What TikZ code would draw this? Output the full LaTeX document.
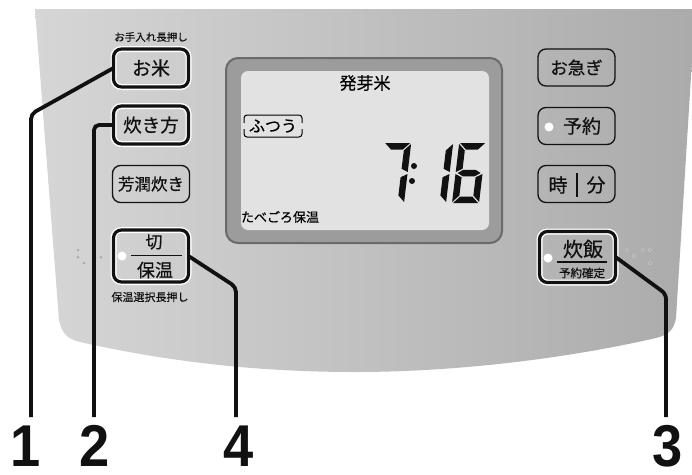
\documentclass[tikz,border=0pt]{standalone}
\usepackage{fontspec}
\newfontfamily\jp{Noto Sans CJK JP}[FakeBold=0.5]
\newfontfamily\numf{Liberation Sans}
\definecolor{panelL}{HTML}{D6D6D6}
\definecolor{panelR}{HTML}{ABABAB}
\definecolor{bezel}{HTML}{9C9C9C}
\definecolor{bezelline}{HTML}{6A6A6A}
\definecolor{lcd}{HTML}{E2E2E2}
\definecolor{ink}{HTML}{111111}
\definecolor{dotgray}{HTML}{959595}
\pgfdeclarelayer{lh}
\pgfdeclarelayer{lt}
\pgfsetlayers{lh,main,lt}
\newcommand\conn[1]{%
  \begin{pgfonlayer}{lh}\draw[leadhalo] #1;\end{pgfonlayer}%
  \begin{pgfonlayer}{lt}\draw[lead] #1;\end{pgfonlayer}}
\newcommand\segA{(1,60) -- (26,60) -- (19.5,53.5) -- (7.5,53.5) -- cycle}
\newcommand\segB{(27,59) -- (20.5,52.5) -- (20.5,34.25) -- (27,31) -- cycle}
\newcommand\segC{(27,1) -- (20.5,7.5) -- (20.5,25.75) -- (27,29) -- cycle}
\newcommand\segD{(1,0) -- (26,0) -- (19.5,6.5) -- (7.5,6.5) -- cycle}
\newcommand\segE{(0,1) -- (6.5,7.5) -- (6.5,25.75) -- (0,29) -- cycle}
\newcommand\segF{(0,59) -- (6.5,52.5) -- (6.5,34.25) -- (0,31) -- cycle}
\newcommand\segG{(2,30) -- (7.5,33.25) -- (19.5,33.25) -- (25,30) -- (19.5,26.75) -- (7.5,26.75) -- cycle}
\begin{document}
\begin{tikzpicture}[x=1pt,y=-1pt,
  every node/.style={inner sep=0pt, outer sep=0pt},
  btnthick/.style={draw=ink, line width=3.2pt, rounded corners=8pt, minimum width=75pt,
     preaction={draw=white, line width=6pt}},
  btnthin/.style={draw=ink, line width=1.3pt, rounded corners=8pt, minimum width=77pt, minimum height=37pt},
  lead/.style={draw=ink, line width=3.8pt, rounded corners=5pt},
  leadhalo/.style={draw=white, line width=7pt, rounded corners=5pt},
  led/.style={fill=white},
  smalldot/.style={fill=dotgray, draw=white!85!black, line width=0.5pt},
  btntext/.style={font=\jp\fontsize{18.5}{19}\selectfont, text=ink},
  note/.style={font=\jp\fontsize{10.5}{11}\selectfont, text=ink},
  bignum/.style={font=\numf\bfseries\fontsize{59}{59}\selectfont, text=ink, anchor=base,
     xscale=0.92, text depth=0pt, text height=42pt},
  seg/.style={fill=ink}]
\useasboundingbox (0,0) rectangle (692,474);
\fill[white] (0,0) rectangle (692,474);
% panel
\shade[left color=panelL, right color=panelR] (35,9) -- (692,9) -- (692,60) -- (676,318)
  .. controls (674,330) and (668,335) .. (656,338)
  .. controls (560,360) and (450,372) .. (355,372)
  .. controls (250,372) and (160,360) .. (80,342)
  .. controls (68,339) and (62,334) .. (59,320) -- cycle;
% display
\draw[fill=bezel, draw=bezelline, line width=2pt, rounded corners=12pt] (226,58) rectangle (502,243);
\fill[lcd, rounded corners=7pt] (241,71) rectangle (489,230);
\node[font=\jp\fontsize{17}{17}\selectfont] (hatsuga) at (365,83) {発芽米};
\node[font=\jp\fontsize{16}{16}\selectfont] (futsuu) at (273,126) {ふつう};
\draw[line width=1pt, rounded corners=3pt] (244,123) -- (244,115) -- (302,115) -- (302,123);
\draw[line width=1pt, rounded corners=3pt] (244,129) -- (244,137) -- (302,137) -- (302,129);
\node[font=\jp\fontsize{13}{13}\selectfont] (tabegoro) at (280,217) {たべごろ保温};
% 7-segment 7:16
\begin{scope}[shift={(377,203)}, x=1pt, y=1pt, xslant=0.12]
  \fill[seg] \segA; \fill[seg] \segB; \fill[seg] \segC;
\end{scope}
\begin{scope}[shift={(419,203)}, x=1pt, y=1pt, xslant=0.12]
  \fill[seg] \segB; \fill[seg] \segC;
\end{scope}
\begin{scope}[shift={(452,203)}, x=1pt, y=1pt, xslant=0.12]
  \fill[seg] \segA; \fill[seg] \segC; \fill[seg] \segD; \fill[seg] \segE; \fill[seg] \segF; \fill[seg] \segG;
\end{scope}
\fill[ink] (414,166) circle (3pt);
\fill[ink] (412,181) circle (3pt);
% left buttons
\node[note] (teire) at (151,37) {お手入れ長押し};
\node[btnthick, minimum height=38pt, btntext, font=\jp\fontsize{19}{19}\selectfont] (okome) at (151,68) {お米};
\node[btnthick, minimum height=38pt, btntext] (takikata) at (151,125) {炊き方};
\node[btnthin, btntext, font=\jp\fontsize{16.5}{17}\selectfont] (houjun) at (151,184) {芳潤炊き};
\node[btnthick, minimum height=52pt] (kiri) at (151,256) {};
\node[btntext, font=\jp\fontsize{17}{17}\selectfont] (kiritxt) at (154,242) {切};
\draw[ink, line width=1.3pt] (131,255.5) -- (182,255.5);
\node[btntext, font=\jp\fontsize{18}{18}\selectfont] (hoontxt) at (155,270) {保温};
\fill[led] (122,256) circle (4.5pt);
\node[note, font=\jp\fontsize{11}{11}\selectfont] (hoonsel) at (150,297) {保温選択長押し};
% right buttons
\node[btnthin, btntext, font=\jp\fontsize{17.5}{18}\selectfont] (oisogi) at (576.5,67.5) {お急ぎ};
\node[btnthin] (yoyaku) at (576.5,126) {};
\node[btntext, font=\jp\fontsize{19}{19}\selectfont] (yoyakutxt) at (582,126) {予約};
\fill[led] (549,127) circle (4.5pt);
\node[btnthin] (jifun) at (576.5,184) {};
\node[btntext, font=\jp\fontsize{19}{19}\selectfont] (jitxt) at (558,185) {時};
\node[btntext, font=\jp\fontsize{19}{19}\selectfont] (funtxt) at (596,185) {分};
\draw[ink, line width=2.2pt] (577,173) -- (577,197);
\node[btnthick, minimum height=51pt, minimum width=76pt] (suihan) at (577.5,257) {};
\node[btntext, font=\jp\fontsize{20}{20}\selectfont] (suihantxt) at (583,249) {炊飯};
\draw[ink, line width=1.3pt] (557,262) -- (607,262);
\node[btntext, font=\jp\fontsize{11.5}{12}\selectfont] (kakutei) at (582,273) {予約確定};
\fill[led] (548,258) circle (4.5pt);
% small dots
\foreach \p in {(78,250),(78,257),(84,263),(101,257),(627,250),(634,256),(643,250),(650,250),(650,263)}
  \filldraw[smalldot] \p circle (1.6pt);
% connectors
\coordinate (c1) at (31,417);
\coordinate (c2) at (94,417);
\coordinate (c4) at (236,417);
\coordinate (c3) at (666,417);
\conn{(okome.west) -- (31,114) -- (c1)}
\conn{(takikata.west) -- (94,125) -- (c2)}
\conn{(kiri.east) -- (236,287) -- (c4)}
\conn{(suihan.east) -- (666,294) -- (c3)}
% numbers
\node[bignum] (n1) at (26,466) {1};
\node[bignum] (n2) at (95,466) {2};
\node[bignum] (n4) at (239,466) {4};
\node[bignum] (n3) at (668,466) {3};
\end{tikzpicture}
\end{document}
